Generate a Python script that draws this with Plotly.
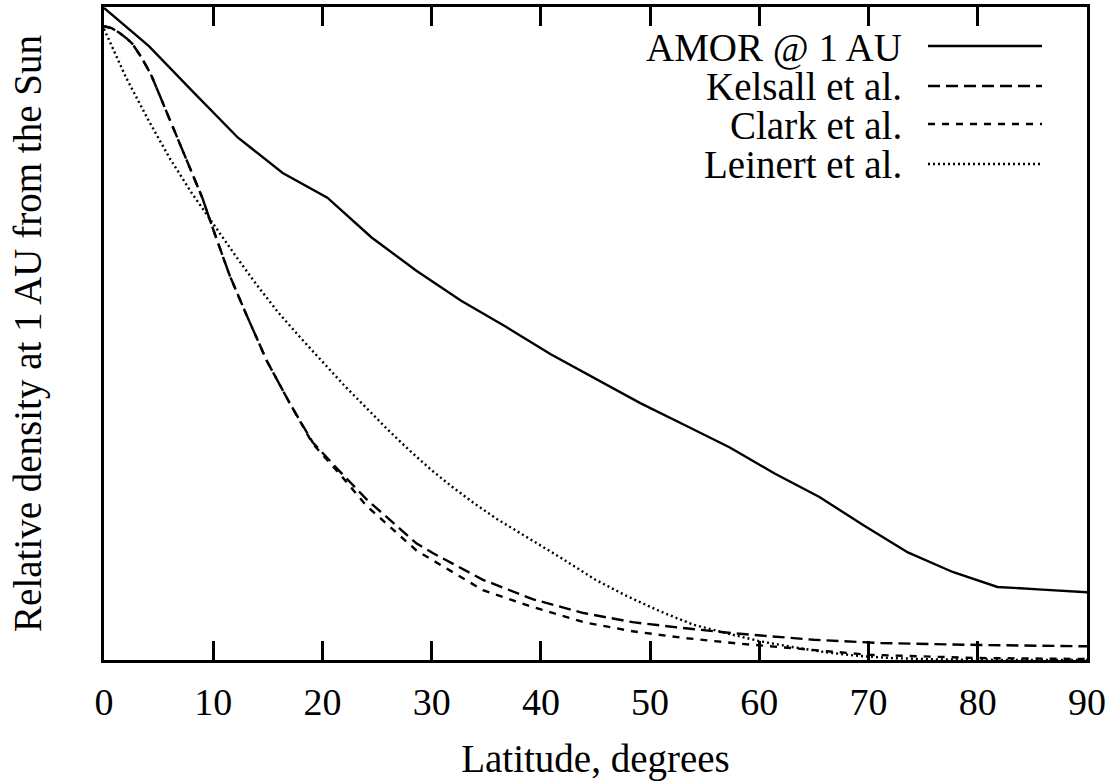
import plotly.graph_objects as go

# Latitude (degrees) and relative density values
amor_lat = [0, 4.09, 8.18, 12.27, 16.36, 20.45, 24.5, 28.6, 32.7, 36.8, 40.9, 45.0,
            49.1, 53.2, 57.3, 61.4, 65.5, 69.5, 73.6, 77.7, 81.8, 85.9, 90]
amor_val = [1.0, 0.942, 0.871, 0.801, 0.747, 0.709, 0.648, 0.597, 0.551, 0.511, 0.469, 0.432,
            0.394, 0.360, 0.326, 0.286, 0.250, 0.207, 0.165, 0.135, 0.112, 0.108, 0.104]

kelsall_lat = [0, 0.7, 1.4, 2.1, 2.6, 3.4, 4.3, 5.3, 6.2, 7.1, 8.0, 9.0, 9.9, 11.5, 13.0,
               14.9, 17.0, 19.1, 21.6, 24.0, 28.6, 30.1, 34.7, 39.3, 43.9, 48.4, 53.0,
               57.6, 65.0, 71.1, 80.3, 90]
kelsall_val = [0.972, 0.969, 0.962, 0.953, 0.945, 0.925, 0.898, 0.858, 0.822, 0.786, 0.750,
               0.709, 0.665, 0.590, 0.531, 0.459, 0.394, 0.334, 0.289, 0.247, 0.179, 0.164,
               0.123, 0.093, 0.072, 0.058, 0.049, 0.041, 0.031, 0.026, 0.023, 0.021]

clark_lat = [0, 0.7, 1.4, 2.1, 2.6, 3.4, 4.3, 5.3, 6.2, 7.1, 8.0, 9.0, 9.9, 11.5, 13.0,
             14.9, 17.0, 19.1, 21.6, 24.0, 28.6, 30.1, 34.7, 39.3, 43.9, 48.4, 53.0,
             57.6, 63.0, 70.0, 80.0, 90]
clark_val = [0.972, 0.969, 0.962, 0.953, 0.945, 0.925, 0.898, 0.858, 0.822, 0.786, 0.750,
             0.709, 0.665, 0.590, 0.531, 0.459, 0.394, 0.332, 0.285, 0.237, 0.168, 0.153,
             0.107, 0.081, 0.058, 0.044, 0.034, 0.026, 0.018, 0.008, 0.003, 0.0015]

leinert_lat = [0, 2, 4, 6, 8, 10, 12, 14, 16, 18, 20, 22, 24, 26, 28, 30, 32, 34, 36, 38,
               40, 42, 45, 48, 51, 54, 57, 60, 63, 66, 69, 72, 76, 80, 90]
leinert_val = [0.968, 0.894, 0.830, 0.770, 0.717, 0.669, 0.621, 0.575, 0.532, 0.494, 0.458,
               0.421, 0.387, 0.353, 0.321, 0.291, 0.264, 0.239, 0.216, 0.196, 0.176, 0.155,
               0.123, 0.097, 0.074, 0.054, 0.041, 0.029, 0.020, 0.012, 0.0064, 0.003, 0.001,
               0.0003, 0.0]

x_ticks = [0, 10, 20, 30, 40, 50, 60, 70, 80, 90]
names = ["AMOR @ 1 AU", "Kelsall et al.", "Clark et al.", "Leinert et al."]

FONT = "Liberation Serif"
FS = 39
FS_TICK = 38
LW = 2.4
dashes = ["solid", "12px,6px", "7px,7px", "2px,3px"]

fig = go.Figure()
series = [(amor_lat, amor_val), (kelsall_lat, kelsall_val),
          (clark_lat, clark_val), (leinert_lat, leinert_val)]
for (xs, ys), nm, dsh in zip(series, names, dashes):
    fig.add_trace(go.Scatter(x=xs, y=ys, mode="lines", name=nm,
                             line=dict(color="black", width=LW, dash=dsh),
                             showlegend=False, cliponaxis=True))

# manual legend: right-aligned text with sample line to its right
L, R, T, B = 104, 1087, 7, 660
PW, PH = R - L, B - T
text_y = [47.5, 86.5, 125.5, 164]
line_y = [46, 86, 124, 164]
for nm, dsh, ty, ly in zip(names, dashes, text_y, line_y):
    fig.add_annotation(text=nm, xref="paper", yref="paper", x=(904 - L) / PW,
                       y=(B - ty) / PH, xanchor="right", yanchor="middle",
                       showarrow=False, font=dict(family=FONT, size=FS, color="black"))
    fig.add_shape(type="line", xref="paper", yref="paper",
                  x0=(928 - L) / PW, x1=(1042 - L) / PW,
                  y0=(B - ly) / PH, y1=(B - ly) / PH,
                  line=dict(color="black", width=LW, dash=dsh))

fig.update_layout(
    width=1116, height=782,
    margin=dict(l=L, r=1116 - R, t=T, b=782 - B),
    paper_bgcolor="white", plot_bgcolor="white",
    font=dict(family=FONT, size=FS, color="black"),
    xaxis=dict(range=[0, 90], tickvals=x_ticks, ticktext=[str(v) for v in x_ticks],
               ticks="inside", ticklen=19, tickwidth=2.5, tickcolor="black",
               showline=True, linewidth=3, linecolor="black", mirror="allticks",
               showgrid=False, zeroline=False, automargin=False,
               tickfont=dict(family=FONT, size=FS_TICK), ticklabelstandoff=6,
               title=dict(text="Latitude, degrees", standoff=24,
                          font=dict(family=FONT, size=FS))),
    yaxis=dict(range=[0, 1.0015], showticklabels=False, ticks="",
               showline=True, linewidth=3, linecolor="black", mirror=True,
               showgrid=False, zeroline=False, automargin=False,
               title=dict(text="Relative density at 1 AU from the Sun", standoff=48,
                          font=dict(family=FONT, size=FS))),
)

fig.write_html("out.html")
